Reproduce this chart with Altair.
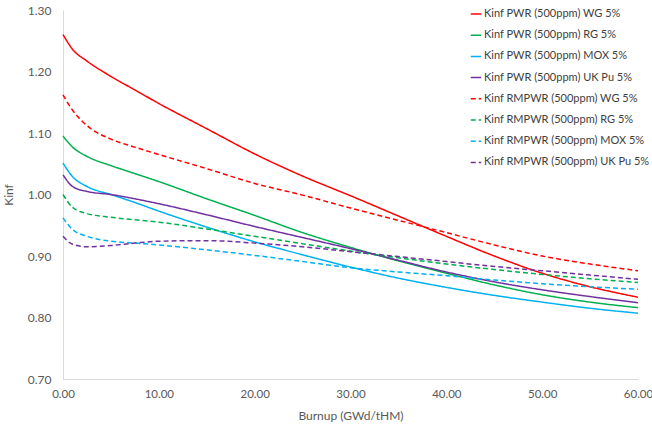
import altair as alt
import pandas as pd

burnup = [0, 1, 2.5, 5, 7.5, 10, 15, 20, 25, 30, 35, 40, 45, 50, 55, 60]

series_names = [
    "Kinf PWR (500ppm) WG 5%",
    "Kinf PWR (500ppm) RG 5%",
    "Kinf PWR (500ppm) MOX 5%",
    "Kinf PWR (500ppm) UK Pu 5%",
    "Kinf RMPWR (500ppm) WG 5%",
    "Kinf RMPWR (500ppm) RG 5%",
    "Kinf RMPWR (500ppm) MOX 5%",
    "Kinf RMPWR (500ppm) UK Pu 5%",
]

pwr_wg = [1.260, 1.236, 1.217, 1.192, 1.170, 1.148, 1.107, 1.066, 1.030, 0.998, 0.965, 0.932, 0.900, 0.872, 0.850, 0.833]
pwr_rg = [1.095, 1.077, 1.062, 1.047, 1.034, 1.021, 0.993, 0.966, 0.938, 0.914, 0.892, 0.872, 0.853, 0.837, 0.825, 0.816]
pwr_mox = [1.051, 1.029, 1.013, 1.000, 0.987, 0.973, 0.947, 0.923, 0.902, 0.882, 0.864, 0.849, 0.836, 0.825, 0.815, 0.807]
pwr_ukpu = [1.032, 1.013, 1.005, 1.000, 0.993, 0.985, 0.967, 0.948, 0.930, 0.912, 0.893, 0.874, 0.858, 0.845, 0.834, 0.824]
rm_wg = [1.162, 1.137, 1.112, 1.090, 1.077, 1.065, 1.042, 1.018, 0.999, 0.978, 0.958, 0.938, 0.918, 0.900, 0.887, 0.876]
rm_rg = [1.000, 0.979, 0.969, 0.963, 0.959, 0.955, 0.944, 0.932, 0.920, 0.908, 0.897, 0.887, 0.878, 0.870, 0.863, 0.857]
rm_mox = [0.962, 0.943, 0.932, 0.924, 0.921, 0.918, 0.910, 0.901, 0.891, 0.881, 0.874, 0.868, 0.861, 0.855, 0.850, 0.846]
rm_ukpu = [0.932, 0.919, 0.915, 0.917, 0.921, 0.924, 0.925, 0.921, 0.915, 0.907, 0.899, 0.891, 0.883, 0.876, 0.869, 0.862]

all_values = [pwr_wg, pwr_rg, pwr_mox, pwr_ukpu, rm_wg, rm_rg, rm_mox, rm_ukpu]

rows = []
for name, vals in zip(series_names, all_values):
    for b, v in zip(burnup, vals):
        rows.append({"series": name, "burnup": b, "kinf": v})
df = pd.DataFrame(rows)

colors = ["#FF0000", "#00B050", "#00B0F0", "#7030A0"] * 2
dashes = [[1, 0]] * 4 + [[5, 3]] * 4

FONT = "Lato"

legend = alt.Legend(
    title=None,
    orient="none",
    legendX=407,
    legendY=-2,
    symbolType="stroke",
    symbolSize=110,
    symbolStrokeWidth=1.5,
    labelFontSize=11,
    labelFont=FONT,
    labelColor="#404040",
    labelOffset=2,
    rowPadding=10.2,
    padding=0,
    labelLimit=300,
)

chart = alt.Chart(df).mark_line(strokeWidth=1.5, interpolate="monotone").encode(
    x=alt.X(
        "burnup:Q",
        scale=alt.Scale(domain=[0, 60], nice=False),
        axis=alt.Axis(
            values=[0, 10, 20, 30, 40, 50, 60],
            format=".2f",
            title="Burnup (GWd/tHM)",
            grid=False,
            ticks=False,
            labelFlush=False,
            domainColor="#D9D9D9",
            labelColor="#595959",
            labelFont=FONT,
            labelFontSize=11.5,
            labelPadding=9,
            titleFont=FONT,
            titleFontSize=12,
            titleFontWeight="normal",
            titleColor="#595959",
            titlePadding=11,
        ),
    ),
    y=alt.Y(
        "kinf:Q",
        scale=alt.Scale(domain=[0.7, 1.3], nice=False, zero=False),
        axis=alt.Axis(
            values=[0.7, 0.8, 0.9, 1.0, 1.1, 1.2, 1.3],
            format=".2f",
            title="Kinf",
            grid=False,
            ticks=False,
            labelFlush=False,
            domainColor="#D9D9D9",
            labelColor="#595959",
            labelFont=FONT,
            labelFontSize=12,
            labelPadding=12,
            titleFont=FONT,
            titleFontSize=12,
            titleFontWeight="normal",
            titleColor="#595959",
            titlePadding=12,
        ),
    ),
    color=alt.Color("series:N", scale=alt.Scale(domain=series_names, range=colors), legend=legend),
    strokeDash=alt.StrokeDash("series:N", scale=alt.Scale(domain=series_names, range=dashes), legend=legend),
).properties(
    width=575,
    height=369,
    autosize=alt.AutoSizeParams(type="none"),
    padding={"left": 63, "top": 10, "right": 14, "bottom": 49},
).configure_view(stroke=None)

chart.save("out.html", embed_options={"renderer": "svg", "actions": False})
